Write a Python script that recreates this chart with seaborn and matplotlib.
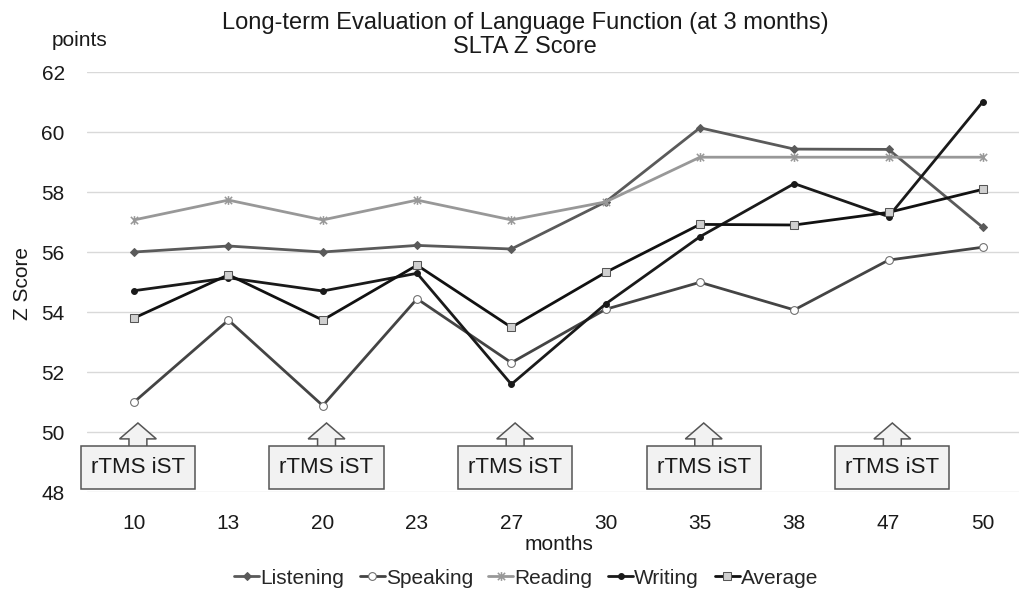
import matplotlib
matplotlib.use('Agg')
import matplotlib.pyplot as plt
import seaborn as sns
from matplotlib.patches import FancyArrow, Rectangle
from matplotlib.path import Path

# data
months = ['10', '13', '20', '23', '27', '30', '35', '38', '47', '50']
listening = [56.0, 56.2, 56.0, 56.22, 56.1, 57.67, 60.14, 59.43, 59.42, 56.82]
speaking = [51.0, 53.73, 50.88, 54.44, 52.31, 54.09, 54.99, 54.07, 55.73, 56.16]
reading = [57.07, 57.73, 57.07, 57.73, 57.07, 57.67, 59.16, 59.16, 59.16, 59.16]
writing = [54.71, 55.14, 54.7, 55.29, 51.59, 54.27, 56.51, 58.28, 57.18, 61.01]
average = [53.8, 55.24, 53.73, 55.56, 53.49, 55.32, 56.92, 56.9, 57.32, 58.09]
rtms_months = ['10', '20', '27', '35', '47']
rtms_label = 'rTMS iST'

sns.set_theme(style='white')
plt.rcParams['font.family'] = ['Liberation Sans', 'DejaVu Sans']

# excel-like star marker: an x with a vertical bar
star = Path([(-1, -1), (1, 1), (-1, 1), (1, -1), (0, -1.2), (0, 1.2)],
            [Path.MOVETO, Path.LINETO, Path.MOVETO, Path.LINETO, Path.MOVETO, Path.LINETO])

fig = plt.figure(figsize=(10.19, 5.90), dpi=100)
ax = fig.add_axes([87 / 1019, 1 - 492 / 590, (1030 - 87) / 1019, 420 / 590])

series = [
    ('Listening', listening, dict(color='#5a5a5a', marker='D', markersize=5.5,
                                  markerfacecolor='#5a5a5a', markeredgecolor='#5a5a5a')),
    ('Speaking', speaking, dict(color='#444444', marker='o', markersize=8,
                                markerfacecolor='white', markeredgecolor='#6a6a6a')),
    ('Reading', reading, dict(color='#989898', marker=star, markersize=9,
                              markeredgecolor='#989898', markeredgewidth=1.1)),
    ('Writing', writing, dict(color='#1a1a1a', marker='o', markersize=6,
                              markerfacecolor='#1a1a1a', markeredgecolor='#1a1a1a')),
    ('Average', average, dict(color='#111111', marker='s', markersize=8,
                              markerfacecolor='#d0d0d0', markeredgecolor='#555555')),
]

for name, vals, style in series:
    sns.lineplot(x=months, y=vals, ax=ax, sort=False, linewidth=2.0,
                 label=name, **style)

# annotation boxes with up arrows
for m in rtms_months:
    cx = months.index(m) + 0.04
    arrow = FancyArrow(cx, 49.5, 0, 0.8, width=0.19, head_width=0.39,
                       head_length=0.53, length_includes_head=True,
                       facecolor='#f2f2f2', edgecolor='#555555', linewidth=1.1,
                       zorder=3, clip_on=False)
    ax.add_patch(arrow)
    box = Rectangle((cx - 0.605, 48.1), 1.21, 1.44, facecolor='#f2f2f2',
                    edgecolor='#555555', linewidth=1.1, zorder=4, clip_on=False)
    ax.add_patch(box)
    ax.text(cx, 48.82, rtms_label, ha='center', va='center', fontsize=16,
            color='#1a1a1a', zorder=5)

ax.set_xlim(-0.5, 9.5)
ax.set_ylim(48, 62)
ax.set_yticks(range(48, 63, 2))
ax.grid(axis='y', color='#d9d9d9', linewidth=1)
ax.grid(axis='x', visible=False)
for s in ax.spines.values():
    s.set_visible(False)
ax.tick_params(axis='both', length=0, labelsize=15, labelcolor='#1a1a1a')
ax.tick_params(axis='y', pad=16)
ax.tick_params(axis='x', pad=16)
ax.set_xlabel('months', fontsize=15, color='#1a1a1a', labelpad=1)
ax.set_ylabel('')

fig.text(22 / 1019, 1 - 283 / 590, 'Z Score', rotation=90, ha='center',
         va='center', fontsize=15, color='#1a1a1a')
fig.text(52 / 1019, 1 - 40 / 590, 'points', ha='left', va='center',
         fontsize=15, color='#1a1a1a')
fig.text(525 / 1019, 1 - 35 / 590,
         'Long-term Evaluation of Language Function (at 3 months)\nSLTA Z Score',
         ha='center', va='center', fontsize=17, color='#1a1a1a', linespacing=1.1)

handles, labels = ax.get_legend_handles_labels()
for h in handles:
    h.set_markersize(h.get_markersize() * 0.7)
ax.legend(handles, labels, loc='center', bbox_to_anchor=(526 / 1019, 1 - 578 / 590),
          bbox_transform=fig.transFigure, ncol=5, frameon=False, fontsize=15,
          handlelength=1.2, handletextpad=0.05, columnspacing=0.75)

fig.savefig('out.png', dpi=100)
